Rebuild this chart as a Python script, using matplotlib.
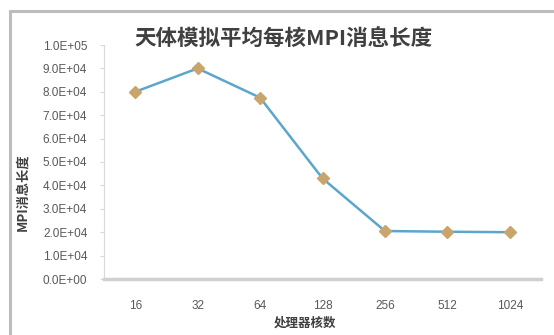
import matplotlib
matplotlib.use("Agg")
import matplotlib.pyplot as plt
from matplotlib.patches import Rectangle
from matplotlib.ticker import FuncFormatter

plt.rcParams['font.family'] = ['Noto Sans CJK SC', 'DejaVu Sans']

# 处理器核数 与 平均每核 MPI 消息长度
cores = ['16', '32', '64', '128', '256', '512', '1024']
msg_len = [80000, 90000, 77500, 43000, 20500, 20200, 20000]

fig = plt.figure(figsize=(5.54, 3.35), dpi=100)
ax = fig.add_axes([104 / 554, 1 - 279 / 335, 437 / 554, 234 / 335])

# 图表外框
fig.patches.append(Rectangle((10 / 554, -0.1), 1.2, 1 - 11 / 335 + 0.1,
                             transform=fig.transFigure, fill=False,
                             edgecolor='#bdbdbd', linewidth=2.2))

x = list(range(len(cores)))
ax.plot(x, msg_len, color='#5aa6cc', linewidth=1.8, marker='D',
        markersize=6, markerfacecolor='#c9a46c', markeredgecolor='#c9a46c',
        zorder=3)

ax.set_xlim(-0.5, len(cores) - 0.5)
ax.set_ylim(0, 100000)
ax.set_yticks([i * 10000 for i in range(11)])
ax.yaxis.set_major_formatter(FuncFormatter(lambda v, p: '%.1E' % v))
ax.set_xticks(x)
ax.set_xticklabels(cores)

for s in ['top', 'right']:
    ax.spines[s].set_visible(False)
ax.spines['left'].set_color('#d9d9d9')
ax.spines['left'].set_linewidth(0.8)
ax.spines['bottom'].set_color('#d0d0d0')
ax.spines['bottom'].set_linewidth(2.5)

ax.tick_params(axis='y', length=3, color='#d9d9d9', pad=9,
               labelsize=8.5, labelcolor='#595959')
ax.tick_params(axis='x', length=0, pad=15, labelsize=8.5, labelcolor='#595959')
for lab in ax.get_yticklabels() + ax.get_xticklabels():
    lab.set_family(['Liberation Sans', 'DejaVu Sans'])

fig.text(283 / 554, 1 - 38 / 335, '天体模拟平均每核MPI消息长度', ha='center',
         va='center', fontsize=15.5, fontweight='bold', color='#404040')
fig.text(22 / 554, 1 - 192 / 335, 'MPI消息长度', rotation=90, ha='center',
         va='center', fontsize=9.5, fontweight='bold', color='#404040')
fig.text(305 / 554, 1 - 323 / 335, '处理器核数', ha='center', va='center',
         fontsize=9, fontweight='bold', color='#404040')

fig.savefig('out.png', dpi=100)
